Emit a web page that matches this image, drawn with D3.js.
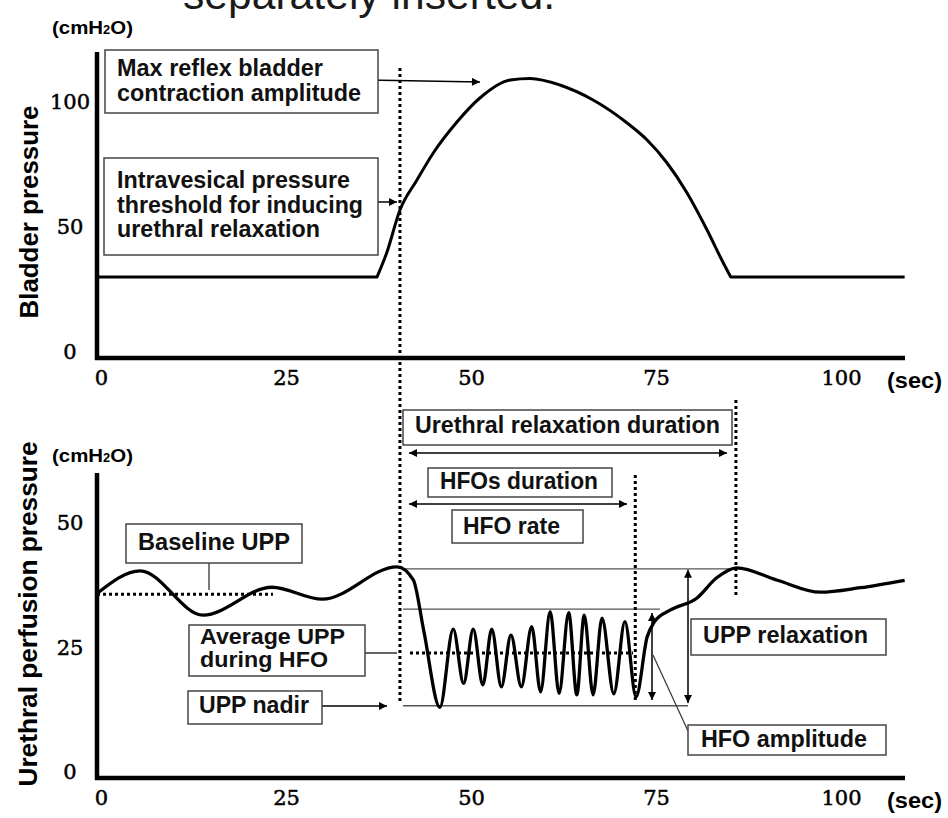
<!DOCTYPE html>
<html><head><meta charset="utf-8">
<script src="https://cdn.jsdelivr.net/npm/d3@7"></script>
<style>
html,body{margin:0;padding:0;background:#fff;}
svg{display:block;}
</style></head><body>
<svg id="chart" width="948" height="818"></svg>
<script>
// ---------- data ----------
const xTicks = [0, 25, 50, 75, 100];
const bladderTicks = [0, 50, 100];
const uppTicks = [0, 25, 50];

const bladderTime  = [-0.5, 37.3, 38.6, 40.4, 42.7, 44.9, 48.1, 51.2, 55.3, 58.0, 62.0, 66.5, 71.1, 73.8, 76.5, 79.2, 81.9, 84.1, 85.1, 108.6];
const bladderValue = [30, 30, 39.6, 56.8, 68.8, 79.6, 92, 101.6, 108.8, 109.4, 106.8, 100.8, 91.6, 84.8, 75.6, 63.6, 48.8, 35.6, 30, 30];

const uppTime  = [-0.5, 5.3, 13.8, 23.1, 29.9, 40.0, 42.2, 43.6, 45.8, 47.6, 49.0, 50.3, 51.6, 52.8, 54.1, 55.4, 56.8, 58.2, 59.4, 60.7, 61.9, 63.2, 64.3, 65.3, 66.5, 67.7, 69.3, 70.8, 72.3, 73.8, 74.8, 76.9, 80.5, 83.2, 85.9, 91.4, 97.2, 102.6, 108.6];
const uppValue = [35.9, 40.4, 31.5, 37.1, 34.7, 41.2, 38.6, 28.5, 13.0, 28.7, 17.8, 28.7, 17.5, 28.7, 17.1, 27.5, 17.1, 29.2, 16.1, 32.2, 15.8, 32.0, 15.5, 31.5, 15.5, 30.9, 15.7, 30.2, 15.1, 27.1, 30.2, 32.5, 34.9, 39.0, 41.0, 38.5, 36.1, 37.0, 38.5];

// reference times (sec): relaxation start, HFO end, relaxation end
const refTimes = [40.4, 72.2, 85.8];
// reference UPP levels (cmH2O): peak, HFO top, average during HFO, nadir, baseline
const refLevels = [40.8, 32.7, 23.9, 13.3, 35.7];

// ---------- setup ----------
const svg = d3.select('#chart');
const x  = d3.scaleLinear().domain([0, 100]).range([101, 841]);
const yB = d3.scaleLinear().domain([0, 100]).range([352, 102]);
const yU = d3.scaleLinear().domain([0, 50]).range([772, 523]);

const SANS = "'Liberation Sans', Arial, sans-serif";
const SERIF = "'DejaVu Serif', serif";

const defs = svg.append('defs');
defs.append('marker').attr('id', 'ah').attr('viewBox', '0 0 10 10')
  .attr('refX', 10).attr('refY', 5).attr('markerWidth', 10).attr('markerHeight', 8)
  .attr('markerUnits', 'userSpaceOnUse').attr('orient', 'auto-start-reverse')
  .append('path').attr('d', 'M0,0L10,5L0,10z').attr('fill', '#000');

// cropped title from slide above
svg.append('text').attr('x', 183).attr('y', 9)
  .attr('font-family', SANS).attr('font-size', 42).attr('fill', '#1a1a1a')
  .attr('textLength', 372).attr('lengthAdjust', 'spacingAndGlyphs')
  .text('separately inserted.');

// ---------- helpers ----------
function line(x1, y1, x2, y2, opts = {}) {
  const l = svg.append('line').attr('x1', x1).attr('y1', y1).attr('x2', x2).attr('y2', y2)
    .attr('stroke', opts.color || '#000').attr('stroke-width', opts.w || 1.5);
  if (opts.dash) l.attr('stroke-dasharray', opts.dash);
  if (opts.end) l.attr('marker-end', 'url(#ah)');
  if (opts.start) l.attr('marker-start', 'url(#ah)');
  return l;
}
function dotted(x1, y1, x2, y2) { return line(x1, y1, x2, y2, {w: 3, dash: '3,3'}); }

function unitLabel(yBase) {
  const t = svg.append('text').attr('x', 52).attr('y', yBase)
    .attr('font-family', SANS).attr('font-weight', 'bold').attr('font-size', 19)
    .attr('textLength', 81).attr('lengthAdjust', 'spacingAndGlyphs');
  t.append('tspan').text('(cmH');
  t.append('tspan').attr('font-size', 12).text('2');
  t.append('tspan').text('O)');
}
function secLabel(yBase) {
  svg.append('text').attr('x', 887).attr('y', yBase)
    .attr('font-family', SANS).attr('font-weight', 'bold').attr('font-size', 22)
    .attr('textLength', 55).attr('lengthAdjust', 'spacingAndGlyphs').text('(sec)');
}
function axisFrame(yAxisTop, xAxisY) {
  line(97, yAxisTop, 97, xAxisY + 2, {w: 4.5});
  line(95, xAxisY, 905, xAxisY, {w: 4.5});
}
function styleTicks(g) {
  g.select('.domain').remove();
  g.attr('font-family', SERIF).attr('font-size', 21);
  g.selectAll('text').attr('fill', '#000').attr('stroke', '#000').attr('stroke-width', 0.5);
}
function xAxisLabels(yPos) {
  const g = svg.append('g').attr('transform', `translate(0,${yPos})`)
    .call(d3.axisBottom(x).tickValues(xTicks).tickSize(0).tickPadding(12));
  styleTicks(g);
}
function yAxisLabels(scale, ticks) {
  const g = svg.append('g').attr('transform', 'translate(97,0)')
    .call(d3.axisLeft(scale).tickValues(ticks).tickSize(0));
  styleTicks(g);
  g.selectAll('text').attr('x', -27).attr('text-anchor', 'middle');
}
function rotLabel(cx, cy, len, txt) {
  svg.append('text').attr('transform', `translate(${cx},${cy}) rotate(-90)`)
    .attr('text-anchor', 'middle').attr('font-family', SANS).attr('font-weight', 'bold')
    .attr('font-size', 25).attr('textLength', len).attr('lengthAdjust', 'spacingAndGlyphs')
    .text(txt);
}

// ---------- top chart: bladder pressure ----------
axisFrame(52, 358);
xAxisLabels(358);
yAxisLabels(yB, bladderTicks);
unitLabel(34);
secLabel(388);
rotLabel(38, 212, 213, 'Bladder pressure');

const bPts = bladderTime.map((t, i) => [x(t), yB(bladderValue[i])]);
const n = bPts.length;
const lin = d3.line();
const smooth = d3.line().curve(d3.curveMonotoneX);
svg.append('path').attr('d', lin(bPts.slice(0, 2)) + smooth(bPts.slice(1, n - 1)).replace(/^M/, 'L') + lin(bPts.slice(n - 2)).replace(/^M/, 'L'))
  .attr('fill', 'none').attr('stroke', '#000').attr('stroke-width', 3).attr('stroke-linejoin', 'round');

// ---------- bottom chart: urethral perfusion pressure ----------
axisFrame(473, 778);
xAxisLabels(778);
yAxisLabels(yU, uppTicks);
unitLabel(462);
secLabel(808);
rotLabel(37, 614, 345, 'Urethral perfusion pressure');

const [tStart, tHfoEnd, tEnd] = refTimes;
const [lvPeak, lvHfoTop, lvAvg, lvNadir, lvBase] = refLevels;

// thin reference lines
line(x(tStart) + 3, yU(lvPeak), x(tEnd), yU(lvPeak), {color: '#555', w: 1.3});
line(x(tStart) + 3, yU(lvHfoTop), 660, yU(lvHfoTop), {color: '#555', w: 1.3});
line(x(tStart) + 3, yU(lvNadir), 688, yU(lvNadir), {color: '#555', w: 1.3});

// UPP curve
const uPts = uppTime.map((t, i) => [x(t), yU(uppValue[i])]);
svg.append('path').attr('d', d3.line().curve(d3.curveMonotoneX)(uPts))
  .attr('fill', 'none').attr('stroke', '#000').attr('stroke-width', 3.3).attr('stroke-linejoin', 'round');

// dotted lines
dotted(x(tStart), 68, x(tStart), 703);
dotted(x(tHfoEnd), 475, x(tHfoEnd), 700);
dotted(x(tEnd), 400, x(tEnd), 595);
dotted(97, yU(lvBase), 273, yU(lvBase));
dotted(410, yU(lvAvg), 633, yU(lvAvg));

// arrows
line(367, 80, 480, 82, {end: true});
line(365, 202, 397, 202, {end: true});
line(409, 453, 727, 453, {start: true, end: true});
line(409, 504, 627, 504, {start: true, end: true});
line(313, 706, 387, 706, {end: true});
line(652, 613, 652, 700, {start: true, end: true});
line(688, yU(lvPeak) + 1, 688, 703, {start: true, end: true});

// leader lines
line(209, 563, 209, 590, {color: '#333', w: 1.3});
line(362, 653, 397, 653, {color: '#333', w: 1.3});
line(653, 655, 688, 731, {color: '#333', w: 1.2});

// ---------- text boxes ----------
const boxes = [
  {x0: 105, y0: 50, x1: 378, y1: 113, fs: 23, lines: [['Max reflex bladder', 117, 76, 206], ['contraction amplitude', 117, 101, 244]]},
  {x0: 104, y0: 158, x1: 378, y1: 255, fs: 23, lines: [['Intravesical pressure', 117, 188, 233], ['threshold for inducing', 117, 213, 246], ['urethral relaxation', 117, 237, 203]]},
  {x0: 126, y0: 524, x1: 302, y1: 563, fs: 23, lines: [['Baseline UPP', 138, 550, 152]]},
  {x0: 189, y0: 625, x1: 365, y1: 676, fs: 22, lines: [['Average UPP', 200, 644, 145], ['during HFO', 200, 667, 128]]},
  {x0: 188, y0: 691, x1: 322, y1: 724, fs: 23, lines: [['UPP nadir', 199, 713, 110]]},
  {x0: 403, y0: 410, x1: 732, y1: 445, fs: 23, lines: [['Urethral relaxation duration', 415, 433, 305]]},
  {x0: 428, y0: 468, x1: 612, y1: 497, fs: 23, lines: [['HFOs duration', 440, 489, 158]]},
  {x0: 452, y0: 510, x1: 583, y1: 543, fs: 23, lines: [['HFO rate', 463, 534, 97]]},
  {x0: 691, y0: 619, x1: 886, y1: 655, fs: 23, lines: [['UPP relaxation', 703, 643, 165]]},
  {x0: 688, y0: 725, x1: 886, y1: 755, fs: 23, lines: [['HFO amplitude', 701, 747, 166]]}
];
boxes.forEach(b => {
  svg.append('rect').attr('x', b.x0).attr('y', b.y0).attr('width', b.x1 - b.x0).attr('height', b.y1 - b.y0)
    .attr('fill', '#fff').attr('stroke', '#444').attr('stroke-width', 1.5);
  b.lines.forEach(([txt, tx, ty, w]) => {
    svg.append('text').attr('x', tx).attr('y', ty)
      .attr('font-family', SANS).attr('font-weight', 'bold').attr('font-size', b.fs).attr('fill', '#111')
      .attr('textLength', w).attr('lengthAdjust', 'spacingAndGlyphs').text(txt);
  });
});
</script>
</body></html>
